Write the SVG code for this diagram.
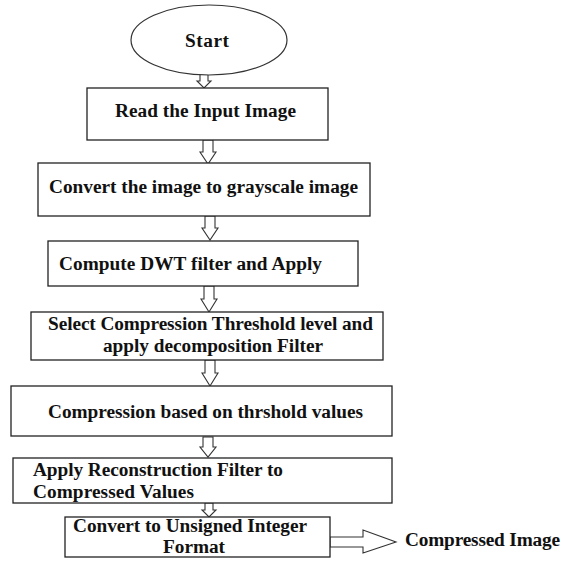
<svg xmlns="http://www.w3.org/2000/svg" width="561" height="561" viewBox="0 0 561 561">
<style>
.box{fill:#fff;stroke:#222;stroke-width:1.3}
.arr{fill:#fff;stroke:#333;stroke-width:1.1;stroke-linejoin:miter}
text{font-family:"Liberation Serif","Times New Roman",serif;font-weight:bold;font-size:19.3px;fill:#111}
</style>
<rect width="561" height="561" fill="#fff"/>
<g id="connectors">
<path class="arr" d="M200,74 V81 H197 L204,88 L211,81 H208 V74 Z"/>
<path class="arr" d="M203,140 V152 H200 L208,164 L216,152 H213 V140 Z"/>
<path class="arr" d="M205,216 V228 H202 L210,240 L218,228 H215 V216 Z"/>
<path class="arr" d="M204,286 V299 H201 L209,312 L217,299 H214 V286 Z"/>
<path class="arr" d="M205,360 V373 H202 L210,386 L218,373 H215 V360 Z"/>
<path class="arr" d="M203,437 V447 H200 L208,457 L216,447 H213 V437 Z"/>
<path class="arr" d="M205,503 V510 H202 L209,517 L216,510 H213 V503 Z"/>
<path class="arr" d="M330,537 H363 V530 L396,542 L363,553 V547 H330 Z"/>
</g>
<g id="start">
<ellipse cx="209" cy="40" rx="78" ry="35" fill="#fff" stroke="#333" stroke-width="1.2"/>
<text x="185" y="47" textLength="44">Start</text>
</g>
<g id="read">
<rect class="box" x="87" y="88" width="241" height="52"/>
<text x="115" y="117" textLength="181">Read the Input Image</text>
</g>
<g id="gray">
<rect class="box" x="38" y="163" width="332" height="53"/>
<text x="49" y="193" textLength="309">Convert the image to grayscale image</text>
</g>
<g id="dwt">
<rect class="box" x="48" y="241" width="310" height="45"/>
<text x="59" y="270" textLength="263">Compute DWT filter and Apply</text>
</g>
<g id="threshold">
<rect class="box" x="31" y="312" width="352" height="48"/>
<text x="48" y="330" textLength="325">Select Compression Threshold level and</text>
<text x="103" y="352" textLength="220">apply decomposition Filter</text>
</g>
<g id="compression">
<rect class="box" x="11" y="386" width="381" height="50"/>
<text x="48" y="418" textLength="315">Compression based on thrshold values</text>
</g>
<g id="reconstruction">
<rect class="box" x="13" y="458" width="379" height="45"/>
<text x="33" y="476" textLength="250">Apply Reconstruction Filter to</text>
<text x="33" y="498" textLength="161">Compressed Values</text>
</g>
<g id="convert">
<rect class="box" x="65" y="517" width="265" height="40"/>
<text x="73" y="532" textLength="234">Convert to Unsigned Integer</text>
<text x="163" y="553" textLength="62">Format</text>
</g>
<g id="output">
<text x="405" y="546" textLength="155">Compressed Image</text>
</g>
</svg>
